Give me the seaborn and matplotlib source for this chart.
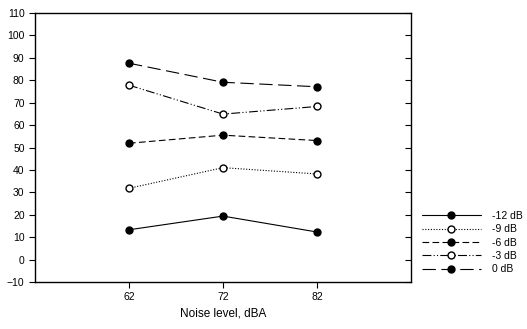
import matplotlib
matplotlib.use("Agg")
import matplotlib.pyplot as plt
import seaborn as sns
import pandas as pd

noise_levels = [62, 72, 82]
series_names = ["-12 dB", "-9 dB", "-6 dB", "-3 dB", "0 dB"]
vals_m12 = [13.3, 19.4, 12.3]
vals_m9 = [31.8, 41.0, 38.2]
vals_m6 = [51.9, 55.5, 53.1]
vals_m3 = [77.8, 64.9, 68.3]
vals_0 = [87.6, 79.1, 77.1]
y_ticks = list(range(-10, 111, 10))
x_ticks = [62, 72, 82]

sns.set_theme(style="white")
plt.rcParams['font.family'] = ['Liberation Sans', 'DejaVu Sans']
plt.rcParams['text.color'] = 'black'
plt.rcParams['axes.labelcolor'] = 'black'
plt.rcParams['xtick.color'] = 'black'
plt.rcParams['ytick.color'] = 'black'

rows = []
for name, vals in zip(series_names, [vals_m12, vals_m9, vals_m6, vals_m3, vals_0]):
    for x, v in zip(noise_levels, vals):
        rows.append({"Noise": x, "Value": v, "Level": name})
df = pd.DataFrame(rows)

styles = {
    "-12 dB": dict(ls="-", fill="black"),
    "-9 dB": dict(ls=(0, (1, 1.5)), fill="white"),
    "-6 dB": dict(ls=(0, (6, 3)), fill="black"),
    "-3 dB": dict(ls=(0, (8, 2, 1, 2, 1, 2)), fill="white"),
    "0 dB": dict(ls=(0, (12, 5)), fill="black"),
}

fig = plt.figure(figsize=(5.27, 3.29), dpi=100)
ax = fig.add_axes([35/527, 1-282/329, (411-35)/527, (282-13)/329])

for name in series_names:
    st = styles[name]
    sub = df[df["Level"] == name]
    sns.lineplot(data=sub, x="Noise", y="Value", ax=ax, color="black",
                 linewidth=0.8, linestyle=st["ls"], marker="o", markersize=5,
                 markerfacecolor=st["fill"], markeredgecolor="black",
                 markeredgewidth=1.0, label=name)

ax.set_xlim(52, 92)
ax.set_ylim(-10, 110)
ax.set_xticks(x_ticks)
ax.set_yticks(y_ticks)
ax.set_xlabel("Noise level, dBA", fontsize=8.5)
ax.set_ylabel("")
ax.tick_params(axis="both", labelsize=7.5, length=4, width=0.8, direction="out",
               left=True, bottom=True, colors="black")
sec = ax.secondary_yaxis("right")
sec.set_yticks(y_ticks)
sec.tick_params(direction="in", length=4, labelright=False, width=0.8, colors="black")
sec.spines["right"].set_visible(False)
for sp in ax.spines.values():
    sp.set_color("black")
    sp.set_linewidth(1.0)

leg = ax.legend(loc="upper left", bbox_to_anchor=(1.03, 0.264), frameon=False,
                fontsize=7.5, handlelength=5.6, handletextpad=1.05, labelspacing=0.32,
                borderaxespad=0, borderpad=0)
for t in leg.get_texts():
    t.set_color("black")
fig.savefig("out.png", dpi=100)
